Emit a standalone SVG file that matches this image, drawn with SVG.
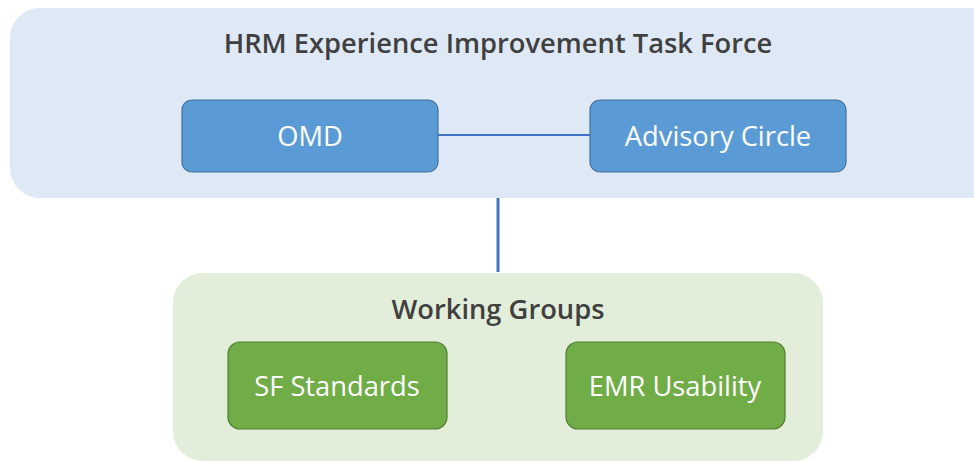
<svg xmlns="http://www.w3.org/2000/svg" width="974" height="461" viewBox="0 0 974 461">
  <style>
    .txt { font-family: "Open Sans", "Liberation Sans", sans-serif; text-anchor: middle; }
    .title { fill: #404040; font-size: 27.3px; font-weight: 600; }
    .label { fill: #ffffff; font-size: 27.3px; }
    .blue { fill: #5b9bd5; stroke: #41719c; stroke-width: 1.2; }
    .green { fill: #70ad47; stroke: #507e32; stroke-width: 1.2; }
    .conn { stroke: #4472c4; fill: none; }
  </style>
  <rect width="974" height="461" fill="#ffffff"/>

  <g id="task-force">
    <rect x="10" y="8" width="990" height="190" rx="30" fill="#dee9f5"/>
    <text class="txt title" x="498" y="53">HRM Experience Improvement Task Force</text>
  </g>

  <g id="working-groups">
    <rect x="173" y="273" width="650" height="188" rx="30" fill="#e2eed9"/>
    <text class="txt title" x="498" y="319">Working Groups</text>
  </g>

  <g id="connectors">
    <line class="conn" x1="438" y1="135" x2="590" y2="135" stroke-width="2"/>
    <line class="conn" x1="498" y1="198" x2="498" y2="272" stroke-width="3"/>
  </g>

  <g id="omd">
    <rect class="blue" x="182" y="100" width="256" height="72" rx="10"/>
    <text class="txt label" x="310" y="146">OMD</text>
  </g>

  <g id="advisory-circle">
    <rect class="blue" x="590" y="100" width="256" height="72" rx="10"/>
    <text class="txt label" x="718" y="146">Advisory Circle</text>
  </g>

  <g id="sf-standards">
    <rect class="green" x="228" y="342" width="219" height="87" rx="12"/>
    <text class="txt label" x="337" y="396">SF Standards</text>
  </g>

  <g id="emr-usability">
    <rect class="green" x="566" y="342" width="219" height="87" rx="12"/>
    <text class="txt label" x="675" y="396">EMR Usability</text>
  </g>
</svg>
